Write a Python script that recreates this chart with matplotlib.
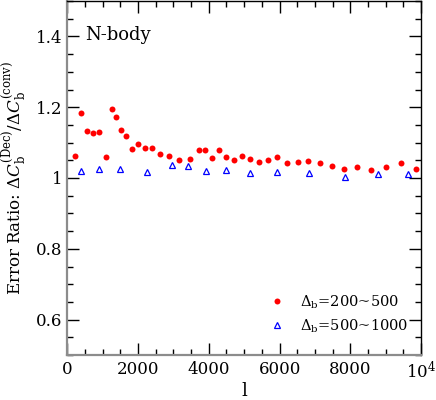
import numpy as np
import matplotlib
matplotlib.use("Agg")
import matplotlib.pyplot as plt
from matplotlib.ticker import MultipleLocator, FuncFormatter

# Delta_b = 200~500 (red dots)
l_red = [215, 395, 564, 742, 912, 1100, 1260, 1383, 1513, 1665, 1824, 2004,
         2190, 2408, 2633, 2887, 3170, 3480, 3734, 3903, 4101, 4290, 4488,
         4713, 4928, 5154, 5409, 5662, 5927, 6209, 6509, 6811, 7141, 7468,
         7827, 8194, 8589, 8993, 9416, 9859]
r_red = [1.063, 1.184, 1.133, 1.127, 1.130, 1.058, 1.194, 1.173, 1.137, 1.119,
         1.082, 1.096, 1.085, 1.084, 1.067, 1.062, 1.052, 1.053, 1.078, 1.080,
         1.057, 1.080, 1.059, 1.050, 1.061, 1.053, 1.044, 1.050, 1.058, 1.043,
         1.044, 1.048, 1.041, 1.035, 1.025, 1.032, 1.024, 1.032, 1.041, 1.025]

# Delta_b = 500~1000 (blue open triangles)
l_blue = [395, 912, 1496, 2258, 2963, 3404, 3912, 4496, 5165, 5936, 6820,
          7836, 8787, 9633]
r_blue = [1.020, 1.026, 1.026, 1.017, 1.038, 1.033, 1.021, 1.022, 1.015,
          1.016, 1.013, 1.004, 1.010, 1.012]

plt.rcParams['font.family'] = ['DejaVu Serif']
plt.rcParams['mathtext.fontset'] = 'dejavuserif'

fig = plt.figure(figsize=(4.36, 4.0), dpi=100)
ax = fig.add_axes([0.154, 0.1125, 0.812, 0.885])

ax.plot(l_red, r_red, 'o', color='red', markersize=4.3, markeredgewidth=0,
        label=r'$\Delta_{\rm b}$=200~500')
ax.plot(l_blue, r_blue, '^', color='blue', markerfacecolor='none',
        markersize=4.5, markeredgewidth=0.9, label=r'$\Delta_{\rm b}$=500~1000')

ax.set_xlim(0, 10000)
ax.set_ylim(0.5, 1.5)
ax.xaxis.set_major_locator(MultipleLocator(2000))
ax.xaxis.set_minor_locator(MultipleLocator(500))
ax.yaxis.set_minor_locator(MultipleLocator(0.05))
ax.set_yticks([0.6, 0.8, 1.0, 1.2, 1.4])
ax.yaxis.set_major_formatter(FuncFormatter(lambda v, p: '1' if abs(v - 1) < 1e-9 else '%.1f' % v))
ax.xaxis.set_major_formatter(FuncFormatter(lambda v, p: r'$10^4$' if v >= 10000 else '%d' % v))

ax.tick_params(which='both', direction='in', top=True, right=True, labelsize=12)
ax.tick_params(which='major', length=8.5, width=1)
ax.tick_params(which='minor', length=4, width=1)
ax.tick_params(axis='x', pad=4)

for s in ['left', 'bottom']:
    ax.spines[s].set_color('#8c8c8c')
    ax.spines[s].set_linewidth(1.6)
for s in ['top', 'right']:
    ax.spines[s].set_linewidth(1.0)

ax.set_xlabel('l', fontsize=13, labelpad=0)
ax.set_ylabel(r'Error Ratio: $\Delta C_{\rm b}^{\rm (Dec)}/\Delta C_{\rm b}^{\rm (conv)}$',
              fontsize=12, labelpad=5)

ax.text(0.05, 0.89, 'N-body', transform=ax.transAxes, fontsize=13)

ax.legend(loc='lower right', bbox_to_anchor=(1.0, 0.02), frameon=False,
          fontsize=10.5, handletextpad=0.8, labelspacing=0.45, markerscale=1.0,
          handlelength=1.5)

fig.savefig('out.png', dpi=100)
